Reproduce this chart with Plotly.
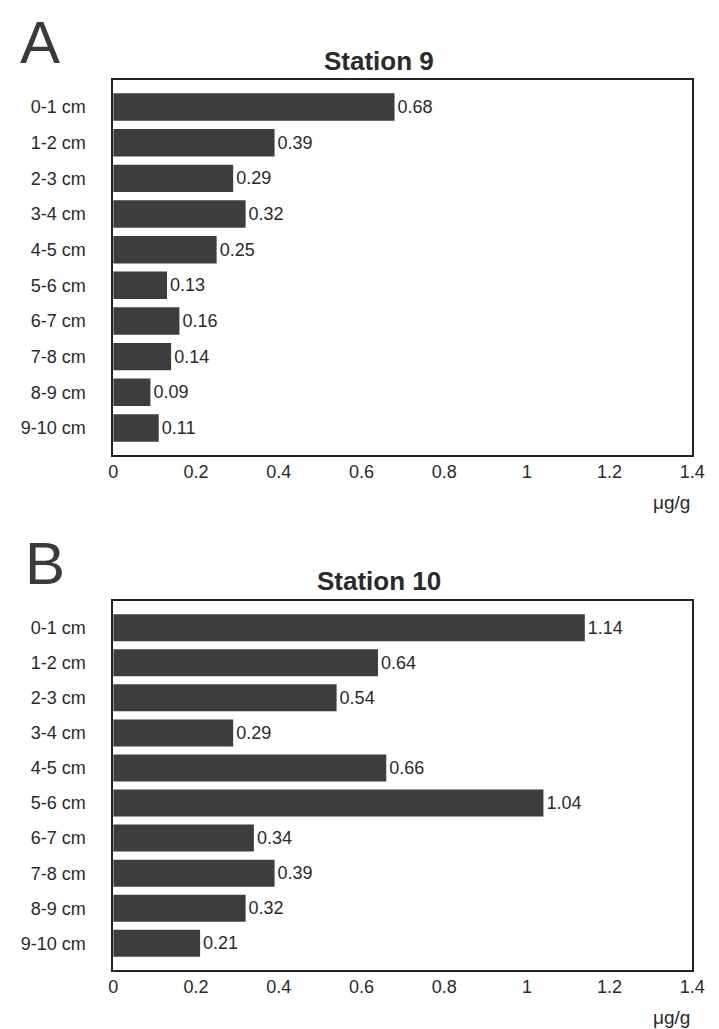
import plotly.graph_objects as go

categories = ["0-1 cm", "1-2 cm", "2-3 cm", "3-4 cm", "4-5 cm",
              "5-6 cm", "6-7 cm", "7-8 cm", "8-9 cm", "9-10 cm"]
station9 = [0.68, 0.39, 0.29, 0.32, 0.25, 0.13, 0.16, 0.14, 0.09, 0.11]
station10 = [1.14, 0.64, 0.54, 0.29, 0.66, 1.04, 0.34, 0.39, 0.32, 0.21]
x_ticks = [0, 0.2, 0.4, 0.6, 0.8, 1, 1.2, 1.4]
x_tick_text = ["0", "0.2", "0.4", "0.6", "0.8", "1", "1.2", "1.4"]
panel_titles = ["Station 9", "Station 10"]
panel_letters = ["A", "B"]
unit = "\u03bcg/g"

W, H = 719, 1029
FONT = "Liberation Sans, Arial, sans-serif"
BAR = "#3d3d3d"
TXT = "#2a2a2a"

def py(p):
    return 1 - p / H

x_dom = [111 / W, 705 / W]
y_doms = [[py(455), py(80)], [py(970), py(601)]]

fig = go.Figure()
for i, vals in enumerate([station9, station10]):
    k = "" if i == 0 else str(i + 1)
    fig.add_trace(go.Bar(
        y=categories, x=vals, orientation="h",
        marker=dict(color=BAR, line=dict(width=0)),
        width=0.77,
        text=[f"{v:.2f}" for v in vals], textposition="outside",
        textfont=dict(family=FONT, size=18, color=TXT),
        cliponaxis=False,
        xaxis="x" + k, yaxis="y" + k, showlegend=False,
    ))
    fig.layout["xaxis" + k] = dict(
        domain=x_dom, anchor="y" + k, range=[0, 1.4],
        tickvals=x_ticks, ticktext=x_tick_text, ticks="",
        showgrid=False, zeroline=False,
        showline=True, mirror=True, linecolor="#222", linewidth=1.5,
        tickfont=dict(family=FONT, size=18, color=TXT),
    )
    fig.layout["yaxis" + k] = dict(
        domain=y_doms[i], anchor="x" + k, type="category",
        categoryorder="array", categoryarray=categories,
        range=[9.76, -0.76], ticks="", ticklabelstandoff=22,
        showgrid=False, zeroline=False,
        showline=True, mirror=True, linecolor="#222", linewidth=1.5,
        tickfont=dict(family=FONT, size=18, color=TXT),
    )

annotations = []
letter_pos = [(36, 42), (41, 563)]
title_y = [61, 581]
unit_y = [502, 1017]
for i in range(2):
    annotations.append(dict(
        text=panel_letters[i], x=letter_pos[i][0] / W, y=py(letter_pos[i][1]),
        xref="paper", yref="paper", showarrow=False,
        xanchor="center", yanchor="middle",
        font=dict(family=FONT, size=60, color="#3a3a3a"),
    ))
    annotations.append(dict(
        text="<b>" + panel_titles[i] + "</b>", x=384 / W, y=py(title_y[i]),
        xref="paper", yref="paper", showarrow=False,
        xanchor="center", yanchor="middle",
        font=dict(family=FONT, size=26, color="#2a2a2a"),
    ))
    annotations.append(dict(
        text=unit, x=705 / W, y=py(unit_y[i]),
        xref="paper", yref="paper", showarrow=False,
        xanchor="right", yanchor="middle",
        font=dict(family=FONT, size=19, color=TXT),
    ))

fig.update_layout(
    width=W, height=H, margin=dict(l=0, r=0, t=0, b=0),
    paper_bgcolor="white", plot_bgcolor="white",
    annotations=annotations,
)
fig.write_html("out.html")
